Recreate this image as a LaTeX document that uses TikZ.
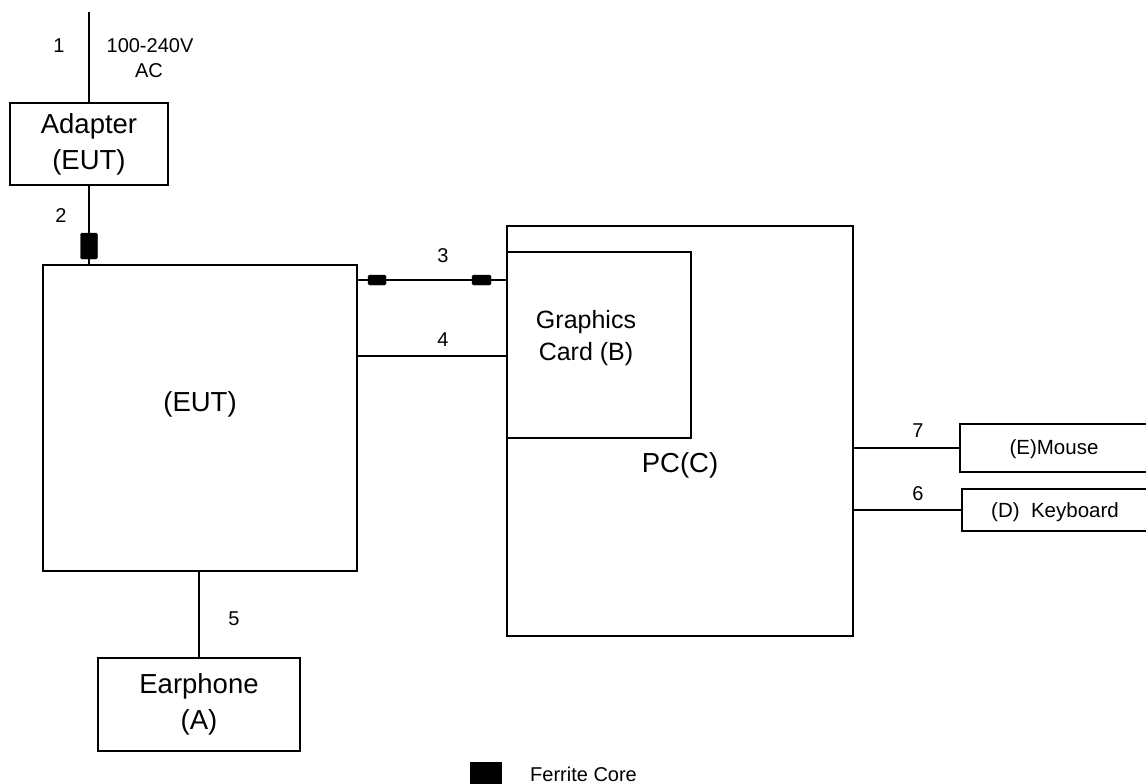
\documentclass[tikz,border=0pt]{standalone}
\usepackage{fontspec}
\setmainfont{Liberation Sans}
\begin{document}
\begin{tikzpicture}[x=1pt,y=-1pt,
  box/.style={draw,line width=2pt,inner sep=0pt,align=center,font=\fontsize{27.5}{36}\selectfont},
  big/.style={inner sep=0pt,align=center,font=\fontsize{27.5}{34}\selectfont},
  small/.style={inner sep=0pt,align=center,font=\fontsize{20}{24}\selectfont},
  wire/.style={line width=2pt},
  ferrite/.style={fill=black,draw=black,rounded corners=1.5pt,inner sep=0pt},
]
\useasboundingbox (0,0) rectangle (1146,784);
\clip (0,0) rectangle (1146,784);
% boxes
\node[box,minimum width=158pt,minimum height=82pt] (adapter) at (89,144) {Adapter\\(EUT)};
\node[box,minimum width=314pt,minimum height=306pt] (eut) at (200,418) {};
\node[big] (eutlbl) at (200,404) {(EUT)};
\node[box,minimum width=202pt,minimum height=93pt] (earphone) at (199,704.5) {Earphone\\(A)};
\node[box,minimum width=346pt,minimum height=410pt] (pc) at (680,431) {};
\node[big] (pclbl) at (680,465) {PC(C)};
\node[box,minimum width=184pt,minimum height=186pt] (gfx) at (599,345) {};
\node[big,font=\fontsize{25}{32}\selectfont] (gfxlbl) at (586,338) {Graphics\\Card (B)};
\node[box,minimum width=190pt,minimum height=48pt] (mouse) at (1055,448) {};
\node[small,font=\fontsize{20.5}{24}\selectfont] (mouselbl) at (1054,449) {(E)Mouse};
\node[box,minimum width=188pt,minimum height=42pt] (keyboard) at (1056,510) {};
\node[small,font=\fontsize{20.5}{24}\selectfont] (keyboardlbl) at (1055,512) {(D)~~Keyboard};
% connectors
\coordinate (mains) at (89,12);
\coordinate (y3) at (0,280);
\coordinate (y4) at (0,356);
\draw[wire] (mains) -- (adapter.north);
\draw[wire] (adapter.south) -- (adapter.south |- eut.north);
\draw[wire] (eut.east |- y3) -- (pc.west |- y3);
\draw[wire] (eut.east |- y4) -- (pc.west |- y4);
\draw[wire] (eut.south -| earphone.north) -- (earphone.north);
\draw[wire] (pc.east |- mouse.west) -- (mouse.west);
\draw[wire] (pc.east |- keyboard.west) -- (keyboard.west);
% ferrite cores
\node[ferrite,minimum width=17pt,minimum height=26pt] (f2) at (89,246) {};
\node[ferrite,minimum width=18pt,minimum height=10pt] (f3a) at (377,280) {};
\node[ferrite,minimum width=19pt,minimum height=10pt] (f3b) at (481.5,280) {};
% labels
\node[small] (l1) at (59,46) {1};
\node[small] (lv) at (150,46) {100-240V};
\node[small] (lac) at (149,71) {AC};
\node[small] (l2) at (61,216) {2};
\node[small] (l3) at (443,256) {3};
\node[small] (l4) at (443,340) {4};
\node[small] (l5) at (234,619) {5};
\node[small] (l6) at (918,494) {6};
\node[small] (l7) at (918,431) {7};
% legend
\node[fill=black,inner sep=0pt,minimum width=32pt,minimum height=28pt] (legbox) at (486,776) {};
\node[small,anchor=west] (leglbl) at (530,774) {Ferrite Core};
\end{tikzpicture}
\end{document}
